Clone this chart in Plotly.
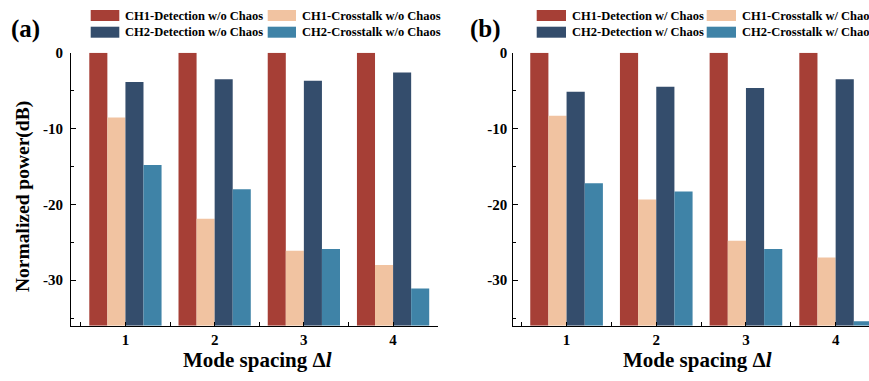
import plotly.graph_objects as go

# ---------------- data ----------------
spacing = [1, 2, 3, 4]

ch1_det_a = [0, 0, 0, 0]
ch1_xt_a = [-8.55, -21.9, -26.1, -28.0]
ch2_det_a = [-3.85, -3.5, -3.7, -2.6]
ch2_xt_a = [-14.8, -18.0, -25.9, -31.1]

ch1_det_b = [0, 0, 0, 0]
ch1_xt_b = [-8.3, -19.35, -24.8, -27.0]
ch2_det_b = [-5.15, -4.5, -4.65, -3.5]
ch2_xt_b = [-17.2, -18.3, -25.9, -35.4]

names_a = ["CH1-Detection w/o Chaos", "CH1-Crosstalk w/o Chaos",
           "CH2-Detection w/o Chaos", "CH2-Crosstalk w/o Chaos"]
names_b = ["CH1-Detection w/ Chaos", "CH1-Crosstalk w/ Chaos",
           "CH2-Detection w/ Chaos", "CH2-Crosstalk w/ Chaos"]
colors = ["#A63F36", "#F1C3A1", "#344D6C", "#3F83A7"]

y_ticks = [0, -10, -20, -30]
y_ticklabels = ["0", "-10", "-20", "-30"]
x_ticklabels = ["1", "2", "3", "4"]

YMIN = -36.0

# ---------------- layout helpers ----------------
W, H = 869, 381
FONT = "Liberation Serif, Times New Roman, serif"


def px(x):
    return x / W


def py(y):
    return (H - y) / H


fig = go.Figure()

series_a = [ch1_det_a, ch1_xt_a, ch2_det_a, ch2_xt_a]
series_b = [ch1_det_b, ch1_xt_b, ch2_det_b, ch2_xt_b]

for vals, name, col in zip(series_a, names_a, colors):
    fig.add_trace(go.Bar(
        x=spacing, y=[v - YMIN for v in vals], base=YMIN, name=name,
        marker=dict(color=col, line=dict(width=0)),
        xaxis="x", yaxis="y", showlegend=False))

for vals, name, col in zip(series_b, names_b, colors):
    fig.add_trace(go.Bar(
        x=spacing, y=[v - YMIN for v in vals], base=YMIN, name=name,
        marker=dict(color=col, line=dict(width=0)),
        xaxis="x2", yaxis="y2", showlegend=False))

ydom = [py(325.7), py(52.7)]

common_x = dict(
    showline=True, linecolor="black", linewidth=1, showgrid=False, zeroline=False,
    automargin=False,
    tickmode="array", tickvals=spacing, ticktext=x_ticklabels,
    ticks="inside", ticklen=4, tickcolor="black", tickwidth=1,
    minor=dict(tickvals=[0.5, 1.5, 2.5, 3.5, 4.5], ticks="inside", ticklen=4,
               tickcolor="black", tickwidth=1),
    tickfont=dict(family=FONT, size=15, color="black", weight="bold"),
    fixedrange=True,
)
common_y = dict(
    showline=True, linecolor="black", linewidth=1, showgrid=False, zeroline=False,
    automargin=False,
    range=[YMIN, 0], tickmode="array", tickvals=y_ticks, ticktext=y_ticklabels,
    ticks="inside", ticklen=5, tickcolor="black", tickwidth=1,
    minor=dict(tickvals=[-5, -15, -25, -35], ticks="inside", ticklen=3,
               tickcolor="black", tickwidth=1),
    tickfont=dict(family=FONT, size=15, color="black", weight="bold"),
    fixedrange=True,
)

fig.update_layout(
    width=W, height=H,
    margin=dict(l=0, r=0, t=0, b=0, pad=0, autoexpand=False),
    paper_bgcolor="white", plot_bgcolor="white",
    barmode="group", bargap=0.19, bargroupgap=0,
    showlegend=False,
    xaxis=dict(domain=[px(71), px(437.7)], range=[0.39, 4.5], anchor="y", **common_x),
    yaxis=dict(domain=ydom, anchor="x", ticklabelstandoff=4, **common_y),
    xaxis2=dict(domain=[px(513.3), 1.0], range=[0.406, 4.372], anchor="y2", **common_x),
    yaxis2=dict(domain=ydom, anchor="x2", ticklabelstandoff=2, **common_y),
)

annotations = []
shapes = []

# panel labels
for txt, xc in [("(a)", 25), ("(b)", 485)]:
    annotations.append(dict(
        text="<b>%s</b>" % txt, xref="paper", yref="paper", x=px(xc), y=py(29),
        xanchor="center", yanchor="middle", showarrow=False,
        font=dict(family=FONT, size=25, color="black")))

# axis titles
annotations.append(dict(
    text="<b>Normalized power(dB)</b>", xref="paper", yref="paper",
    x=px(23), y=py(197), textangle=-90, xanchor="center", yanchor="middle",
    showarrow=False, font=dict(family=FONT, size=19.5, color="black")))
for xc in [257, 697]:
    annotations.append(dict(
        text="<b>Mode spacing \u0394<i>l</i></b>", xref="paper", yref="paper",
        x=px(xc), y=py(360), xanchor="center", yanchor="middle",
        showarrow=False, font=dict(family=FONT, size=21, color="black")))

# manual legends (two columns, two rows)
legend_layouts = [
    (names_a, [(90.7, 119.3, 123.3), (267.7, 296, 300)]),
    (names_b, [(536.7, 566, 570), (706.7, 736, 740)]),
]
rows = [(10, 21, 15.7), (26.7, 37.7, 32.3)]
order = [(0, 0), (0, 1), (1, 0), (1, 1)]  # (row, col) for each series
for names, cols in legend_layouts:
    for i, (r, c) in enumerate(order):
        x0, x1, tx = cols[c]
        y0, y1, ty = rows[r]
        shapes.append(dict(type="rect", xref="paper", yref="paper",
                           x0=px(x0), x1=px(x1), y0=py(y1), y1=py(y0),
                           fillcolor=colors[i], line=dict(width=0)))
        annotations.append(dict(
            text="<b>%s</b>" % names[i], xref="paper", yref="paper",
            x=px(tx), y=py(ty), xanchor="left", yanchor="middle",
            showarrow=False, font=dict(family=FONT, size=12.5, color="black")))

fig.update_layout(annotations=annotations, shapes=shapes)

fig.write_html("out.html")
